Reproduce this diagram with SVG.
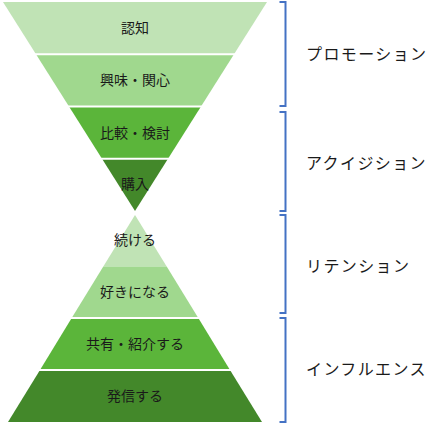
<svg xmlns="http://www.w3.org/2000/svg" width="443" height="424" viewBox="0 0 443 424">
<style>
.c1{fill:#C0E3B5}.c2{fill:#A0D88E}.c3{fill:#5BB53A}.c4{fill:#43882A}
.div{stroke:#FFFFFF;stroke-width:2}
.lbl{font-family:"Noto Sans CJK JP","Noto Sans",sans-serif;font-size:14px;fill:#1A1A1A;text-anchor:middle;dominant-baseline:central}
.side{font-family:"Noto Sans CJK JP","Noto Sans",sans-serif;font-size:16px;fill:#1A1A1A;letter-spacing:1.4px;dominant-baseline:central}
.br{fill:none;stroke:#4472C4;stroke-width:2}
</style>
<rect width="443" height="424" fill="#FFFFFF"/>
<g id="funnel-top">
<g id="n-ninchi"><polygon class="c1" points="3,2 267,2 234,54.25 36,54.25"/><text class="lbl" x="135" y="27">認知</text></g>
<g id="n-kyomi"><polygon class="c2" points="36,54.25 234,54.25 201,106.5 69,106.5"/><text class="lbl" x="135" y="79">興味・関心</text></g>
<g id="n-hikaku"><polygon class="c3" points="69,106.5 201,106.5 168,158.75 102,158.75"/><text class="lbl" x="135" y="132">比較・検討</text></g>
<g id="n-konyu"><polygon class="c4" points="102,158.75 168,158.75 135,211"/><text class="lbl" x="135" y="183">購入</text></g>
<line class="div" x1="30" y1="54.25" x2="240" y2="54.25"/>
<line class="div" x1="60" y1="106.5" x2="210" y2="106.5"/>
<line class="div" x1="95" y1="158.75" x2="175" y2="158.75"/>
</g>
<g id="pyramid-bottom">
<g id="n-tsuzukeru"><polygon class="c1" points="135,215 166.7,266.5 103.3,266.5"/><text class="lbl" x="135" y="239">続ける</text></g>
<g id="n-suki"><polygon class="c2" points="103.3,266.5 166.7,266.5 198.3,318 71.7,318"/><text class="lbl" x="135" y="291">好きになる</text></g>
<g id="n-kyoyu"><polygon class="c3" points="71.7,318 198.3,318 230,370 40,370"/><text class="lbl" x="135" y="343">共有・紹介する</text></g>
<g id="n-hasshin"><polygon class="c4" points="40,370 230,370 262,422 8,422"/><text class="lbl" x="135" y="395">発信する</text></g>
<line class="div" x1="65" y1="318" x2="205" y2="318"/>
<line class="div" x1="35" y1="370" x2="235" y2="370"/>
</g>
<g id="connectors">
<polyline class="br" points="279.5,2 285.5,2 285.5,106 279.5,106"/>
<polyline class="br" points="279.5,112 285.5,112 285.5,211 279.5,211"/>
<polyline class="br" points="279.5,215 285.5,215 285.5,313 279.5,313"/>
<polyline class="br" points="279.5,318 285.5,318 285.5,422 279.5,422"/>
</g>
<g id="phase-labels">
<text id="l-promotion" class="side" x="306" y="53">プロモーション</text>
<text id="l-acquisition" class="side" x="306" y="162">アクイジション</text>
<text id="l-retention" class="side" x="306" y="265">リテンション</text>
<text id="l-influence" class="side" x="306" y="368">インフルエンス</text>
</g>
</svg>
